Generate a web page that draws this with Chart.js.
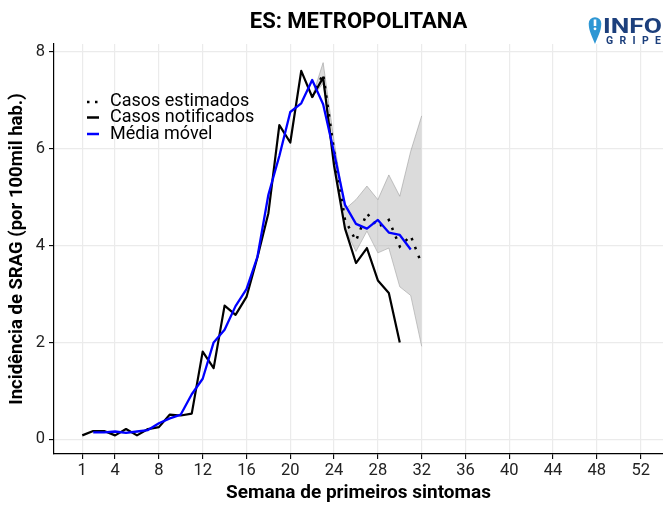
<!DOCTYPE html>
<html>
<head>
<meta charset="utf-8">
<script src="https://cdn.jsdelivr.net/npm/chart.js@4/dist/chart.umd.min.js"></script>
<style>
  html, body { margin: 0; padding: 0; background: #fff; }
  #wrap { width: 663px; height: 508px; }
</style>
</head>
<body>
<div id="wrap"><canvas id="c" width="663" height="508"></canvas></div>
<script>
// ---- data ----
const weeks = [1,2,3,4,5,6,7,8,9,10,11,12,13,14,15,16,17,18,19,20,21,22,23,24,25,26,27,28,29,30,31,32];
const casosNotificados = [0.08,0.17,0.17,0.08,0.21,0.08,0.21,0.25,0.51,0.49,0.53,1.81,1.47,2.76,2.57,2.94,3.76,4.67,6.49,6.13,7.61,7.07,7.47,5.65,4.35,3.64,3.95,3.28,3.02,2.00,null,null];
const casosEstimados = [null,null,null,null,null,null,null,null,null,null,null,null,null,null,null,null,null,null,null,null,null,7.07,7.55,5.95,4.53,4.10,4.67,4.38,4.53,3.98,4.20,3.62];
const mediaMovel = [null,0.14,0.14,0.16,0.13,0.16,0.19,0.33,0.43,0.51,0.93,1.25,2.00,2.26,2.75,3.10,3.77,5.05,5.85,6.76,6.94,7.42,6.92,5.92,4.84,4.45,4.35,4.53,4.27,4.22,3.92,null];
const icInferior = [null,null,null,null,null,null,null,null,null,null,null,null,null,null,null,null,null,null,null,null,null,7.07,7.35,5.80,4.35,3.88,4.30,3.85,3.95,3.15,2.97,1.92];
const icSuperior = [null,null,null,null,null,null,null,null,null,null,null,null,null,null,null,null,null,null,null,null,null,7.07,7.78,6.15,4.75,4.95,5.23,4.95,5.46,5.02,5.95,6.68];
const xTickValues = [1,4,8,12,16,20,24,28,32,36,40,44,48,52];
const yTickValues = [0,2,4,6,8];
const legendLabels = ['Casos estimados','Casos notificados','Média móvel'];
const titleText = 'ES: METROPOLITANA';
const xTitle = 'Semana de primeiros sintomas';
const yTitle = 'Incidência de SRAG (por 100mil hab.)';

function pts(arr) {
  const out = [];
  weeks.forEach((w, i) => { if (arr[i] !== null && arr[i] !== undefined) out.push({x: w, y: arr[i]}); });
  return out;
}

Chart.defaults.font.family = 'Roboto, "Noto Sans", sans-serif';

const overlay = {
  id: 'overlay',
  afterDraw(chart) {
    const ctx = chart.ctx;
    const area = chart.chartArea;
    ctx.save();
    // title
    ctx.fillStyle = '#000';
    ctx.font = 'bold 22px Roboto';
    ctx.textAlign = 'center';
    ctx.textBaseline = 'middle';
    ctx.fillText(titleText, (area.left + area.right) / 2, 22);

    // legend
    const rowsY = [101, 117.5, 134];
    ctx.font = '18px Roboto';
    ctx.textAlign = 'left';
    ctx.textBaseline = 'middle';
    legendLabels.forEach((lab, i) => {
      const y = rowsY[i];
      ctx.save();
      ctx.beginPath();
      ctx.lineCap = 'butt';
      if (i === 0) {
        ctx.strokeStyle = '#000';
        ctx.lineWidth = 2.5;
        ctx.setLineDash([2.5, 5.5]);
        ctx.moveTo(87, y + 1);
        ctx.lineTo(100, y + 1);
      } else {
        ctx.strokeStyle = i === 1 ? '#000' : '#0000ff';
        ctx.lineWidth = 2.5;
        ctx.moveTo(87, y);
        ctx.lineTo(99, y);
      }
      ctx.stroke();
      ctx.restore();
      ctx.fillStyle = '#000';
      ctx.fillText(lab, 110, y);
    });

    // logo: pin
    const cx = 595, cy = 23.5, r = 6.3;
    ctx.fillStyle = '#2e97d4';
    ctx.beginPath();
    ctx.moveTo(cx, 44);
    ctx.bezierCurveTo(cx - 2.5, 37, cx - r, 31, cx - r, cy);
    ctx.arc(cx, cy, r, Math.PI, 0, false);
    ctx.bezierCurveTo(cx + r, 31, cx + 2.5, 37, cx, 44);
    ctx.closePath();
    ctx.fill();
    ctx.fillStyle = '#fff';
    ctx.fillRect(cx - 1.3, 19.5, 2.6, 6.5);
    ctx.beginPath();
    ctx.arc(cx, 28.8, 1.4, 0, Math.PI * 2);
    ctx.fill();

    // logo: text
    ctx.fillStyle = '#1c3f7c';
    ctx.textAlign = 'left';
    ctx.textBaseline = 'alphabetic';
    ctx.font = 'bold 21px Roboto';
    let w = ctx.measureText('INFO').width;
    ctx.save();
    ctx.translate(603, 33);
    ctx.scale(59 / w, 1);
    ctx.fillText('INFO', 0, 0);
    ctx.restore();
    ctx.font = 'bold 10.5px Roboto';
    const letters = 'GRIPE'.split('');
    const gx0 = 606, gx1 = 661;
    const lw = letters.map(l => ctx.measureText(l).width);
    const total = lw.reduce((a, b) => a + b, 0);
    const gap = (gx1 - gx0 - total) / (letters.length - 1);
    let gx = gx0;
    letters.forEach((l, i) => { ctx.fillText(l, gx, 44); gx += lw[i] + gap; });
    ctx.restore();
  }
};

const gridCommon = { color: '#ebebeb', lineWidth: 1.2, tickColor: '#000', tickLength: 5, tickWidth: 1.1, drawTicks: true };

new Chart(document.getElementById('c'), {
  type: 'line',
  data: {
    datasets: [
      { label: 'IC superior', data: pts(icSuperior), borderColor: 'rgba(150,150,150,0.55)', borderWidth: 1,
        backgroundColor: 'rgba(175,175,175,0.45)', fill: '+1', pointRadius: 0, order: 4, tension: 0 },
      { label: 'IC inferior', data: pts(icInferior), borderColor: 'rgba(150,150,150,0.55)', borderWidth: 1,
        fill: false, pointRadius: 0, order: 5, tension: 0 },
      { label: legendLabels[0], data: pts(casosEstimados), borderColor: '#000', borderWidth: 2.5,
        borderDash: [2.5, 7], borderCapStyle: 'butt', fill: false, pointRadius: 0, order: 2 },
      { label: legendLabels[1], data: pts(casosNotificados), borderColor: '#000', borderWidth: 2.2,
        borderJoinStyle: 'round', fill: false, pointRadius: 0, order: 1 },
      { label: legendLabels[2], data: pts(mediaMovel), borderColor: '#0000ff', borderWidth: 2.3,
        borderJoinStyle: 'round', fill: false, pointRadius: 0, order: 0 }
    ]
  },
  options: {
    responsive: false,
    animation: false,
    events: [],
    layout: { padding: { top: 44, left: 0, right: 0, bottom: 0 } },
    plugins: { legend: { display: false }, tooltip: { enabled: false }, title: { display: false } },
    scales: {
      x: {
        type: 'linear', min: -1.58, max: 54.04,
        afterBuildTicks: s => { s.ticks = xTickValues.map(v => ({ value: v })); },
        afterFit: s => { s.height = 54; },
        ticks: { autoSkip: false, maxRotation: 0, font: { size: 16.5 }, color: '#222', padding: 2,
                 callback: v => String(v) },
        grid: gridCommon,
        border: { display: true, color: '#000', width: 1.2 },
        title: { display: true, text: xTitle, color: '#000', font: { size: 19, weight: 'bold' },
                 padding: { top: 0, bottom: 3 } }
      },
      y: {
        type: 'linear', min: -0.305, max: 8.165,
        afterBuildTicks: s => { s.ticks = yTickValues.map(v => ({ value: v })); },
        afterFit: s => { s.width = 54; },
        ticks: { font: { size: 16.5 }, color: '#222', padding: 4, callback: v => String(v) },
        grid: gridCommon,
        border: { display: true, color: '#000', width: 1.2 },
        title: { display: true, text: yTitle, color: '#000', font: { size: 18.5, weight: 'bold' },
                 padding: { top: 6, bottom: 0 } }
      }
    }
  },
  plugins: [overlay]
});
</script>
</body>
</html>
